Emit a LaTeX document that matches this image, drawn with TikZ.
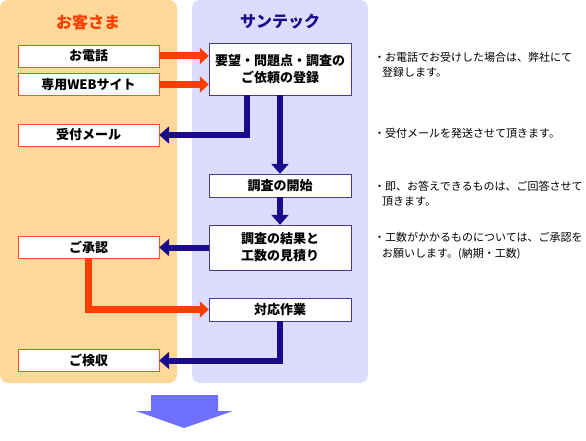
\documentclass[tikz,border=0pt]{standalone}
\usepackage{fontspec}
\setmainfont{Noto Sans CJK JP}
\usetikzlibrary{arrows.meta}

\begin{document}
\begin{tikzpicture}
		[x=1pt,y=-1pt,line join=miter,
		%Styles
		panel/.style={rounded corners=8pt},
		title text/.style={font=\fontsize{16}{18}\selectfont\bfseries},
		client box/.style={draw=clientline,fill=white,minimum width=141pt,minimum height=22pt,inner sep=0pt,font=\fontsize{13}{15}\selectfont\bfseries},
		staff box/.style={draw=staffline,fill=white,minimum width=142pt,inner sep=0pt,align=center,font=\fontsize{13}{17}\selectfont\bfseries},
		note text/.style={anchor=west,inner sep=0pt,align=left,font=\fontsize{11}{15.5}\selectfont},
		orange arrow/.style={draw=orangeflow,line width=7pt,-{Triangle[length=9pt,width=16pt]}},
		blue arrow/.style={draw=blueflow,line width=6pt,-{Triangle[length=10pt,width=17pt]}}
		]
		
		%Colors
		\definecolor{clientpanel}{RGB}{254,216,154}
		\definecolor{staffpanel}{RGB}{220,220,255}
		\definecolor{orangeflow}{RGB}{255,62,0}
		\definecolor{blueflow}{RGB}{26,10,140}
		\definecolor{clientline}{RGB}{255,85,40}
		\definecolor{staffline}{RGB}{70,60,160}
		\definecolor{nextarrow}{RGB}{112,112,255}
		
		\useasboundingbox (0,0) rectangle (586,441);
		
		%Panels
		\fill[panel,clientpanel] (0,0) rectangle (177,383);
		\fill[panel,staffpanel] (192,0) rectangle (368,383);
		\node[title text,text=orangeflow] (client) at (88,22) {お客さま};
		\node[title text,text=blueflow] (staff) at (280,22) {サンテック};
		
		%The graphic
		\node[client box] (tel) at (88.5,56) {お電話};
		\node[client box] (web) at (88.5,84.5) {専用WEBサイト};
		\node[client box] (mail) at (88.5,135) {受付メール};
		\node[client box] (ok) at (88.5,247.5) {ご承認};
		\node[client box] (check) at (88.5,360.5) {ご検収};
		
		\node[staff box,minimum height=52pt] (reg) at (280,69) {要望・問題点・調査の\\ご依頼の登録};
		\node[staff box,minimum height=23pt] (start) at (280,185.5) {調査の開始};
		\node[staff box,minimum height=45pt] (result) at (280,247.5) {調査の結果と\\工数の見積り};
		\node[staff box,minimum height=23pt] (work) at (280,309.5) {対応作業};
		
		\draw[orange arrow] (tel.east) -- (tel.east -| reg.west);
		\draw[orange arrow] (web.east) -- (web.east -| reg.west);
		\draw[blue arrow] ([xshift=-33pt]reg.south) |- (mail.east);
		\draw[blue arrow] (reg.south) -- (start.north);
		\draw[blue arrow] (start.south) -- (result.north);
		\draw[blue arrow] (result.west) -- (ok.east);
		\draw[orange arrow] (ok.south) |- (work.west);
		\draw[blue arrow] (work.south) |- (check.east);
		
		%Notes
		\node[note text] (note1) at (374,65) {・お電話でお受けした場合は、弊社にて\\\hspace{8pt}登録します。};
		\node[note text] (note2) at (374,133) {・受付メールを発送させて頂きます。};
		\node[note text] (note3) at (374,193.5) {・即、お答えできるものは、ご回答させて\\\hspace{8pt}頂きます。};
		\node[note text] (note4) at (374,246) {・工数がかかるものについては、ご承認を\\\hspace{8pt}お願いします。(納期・工数)};
		
		%Next step
		\fill[nextarrow] (151,395) -- (218,395) -- (218,411) -- (233,411) -- (184,428) -- (136,411) -- (151,411) -- cycle;
	\end{tikzpicture}
\end{document}
